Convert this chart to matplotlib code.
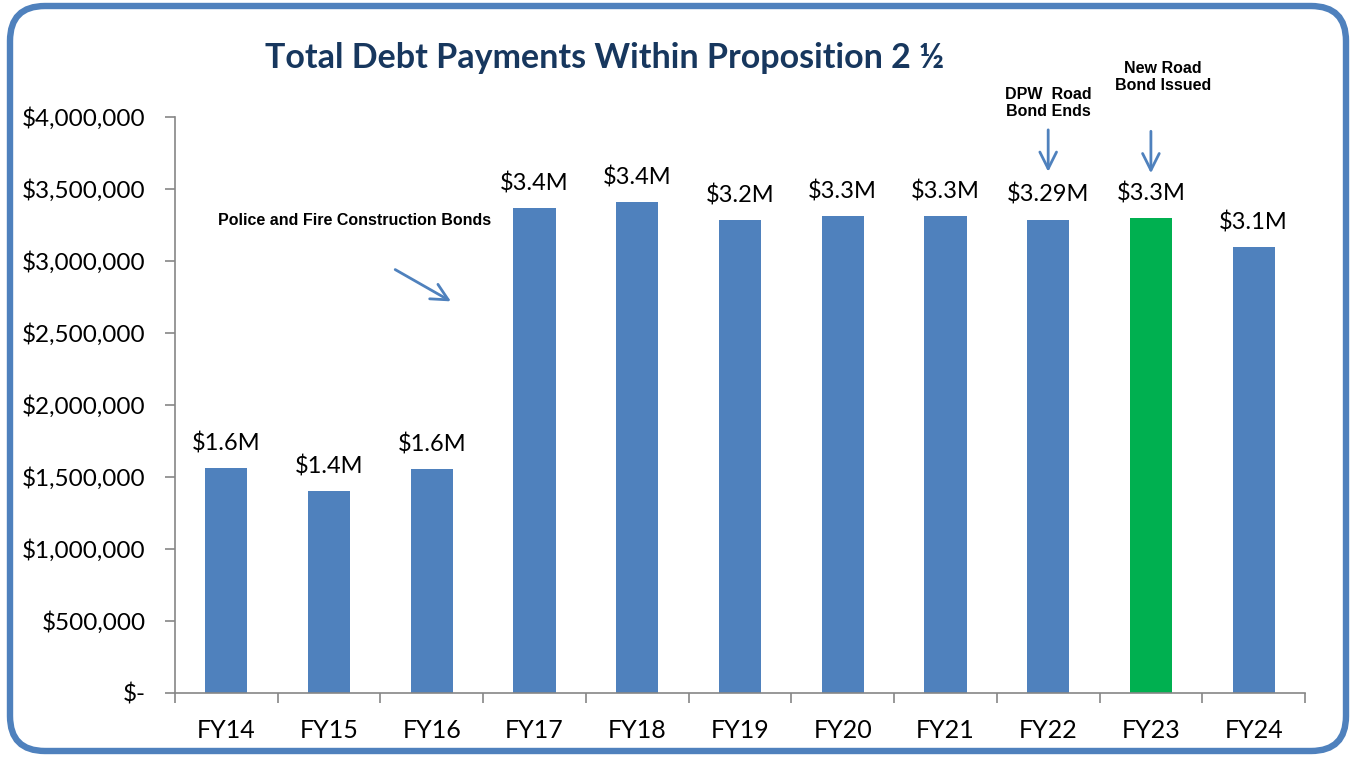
import matplotlib
matplotlib.use("Agg")
import matplotlib.pyplot as plt
from matplotlib.patches import FancyBboxPatch
from matplotlib.ticker import FuncFormatter, MultipleLocator, FixedLocator

years = ['FY14', 'FY15', 'FY16', 'FY17', 'FY18', 'FY19', 'FY20', 'FY21', 'FY22', 'FY23', 'FY24']
payments = [1562000, 1403000, 1556000, 3368000, 3410000, 3283000, 3312000, 3310000, 3286000, 3299000, 3097000]
labels = ['$1.6M', '$1.4M', '$1.6M', '$3.4M', '$3.4M', '$3.2M', '$3.3M', '$3.3M', '$3.29M', '$3.3M', '$3.1M']
highlight = 'FY23'

BLUE = '#4F81BD'
GREEN = '#00B050'
NAVY = '#17375E'
BODY_FONT = ['Lato', 'DejaVu Sans']
NOTE_FONT = ['Liberation Sans', 'DejaVu Sans']

W, H = 1356, 757
fig = plt.figure(figsize=(W / 100, H / 100), dpi=100)

# rounded frame around the whole slide, drawn in pixel units
bg = fig.add_axes([0, 0, 1, 1])
bg.set_xlim(0, W)
bg.set_ylim(H, 0)
bg.axis('off')
frame = FancyBboxPatch((10 + 35, 6 + 35), W - 20 - 70, H - 12 - 70,
                       boxstyle='round,pad=35', fc='none', ec=BLUE, lw=4.6)
bg.add_patch(frame)

ax = fig.add_axes([175 / W, 1 - 693 / H, (1305 - 175) / W, (693 - 117) / H])
ax.patch.set_alpha(0)
x = list(range(len(years)))
colors = [GREEN if y == highlight else BLUE for y in years]
bars = ax.bar(x, payments, width=0.41, color=colors, zorder=2)

for xi, val, lab in zip(x, payments, labels):
    ax.annotate(lab, (xi, val), xytext=(0, 10), textcoords='offset points',
                ha='center', va='bottom', fontsize=17, family=BODY_FONT)

ax.set_xlim(-0.5, len(years) - 0.5)
ax.set_ylim(0, 4000000)
ax.yaxis.set_major_locator(MultipleLocator(500000))
ax.yaxis.set_major_formatter(FuncFormatter(lambda v, p: '$-' if v == 0 else f'${v:,.0f}'))
ax.set_xticks(x)
ax.set_xticklabels(years)
ax.xaxis.set_minor_locator(FixedLocator([i - 0.5 for i in range(len(years) + 1)]))
ax.tick_params(axis='x', which='major', length=0, pad=19)
ax.tick_params(axis='x', which='minor', length=7, color='#868686', width=1.2)
ax.tick_params(axis='y', length=7, color='#868686', width=1.2, pad=14)
for t in ax.get_yticklabels():
    t.set_fontsize(17.5)
    t.set_family(BODY_FONT)
for t in ax.get_xticklabels():
    t.set_fontsize(18)
    t.set_family(BODY_FONT)
for side in ['top', 'right']:
    ax.spines[side].set_visible(False)
for side in ['left', 'bottom']:
    ax.spines[side].set_color('#868686')
    ax.spines[side].set_linewidth(1.2)

fig.text(605 / W, 1 - 58 / H, 'Total Debt Payments Within Proposition 2 \u00bd',
         ha='center', va='center', fontsize=24.5, fontweight='bold', color=NAVY,
         family=BODY_FONT)

# notes and arrows for the bond events
ax.text(1.25, 3280000, 'Police and Fire Construction Bonds', ha='center', va='center',
        fontsize=11.5, fontweight='bold', family=NOTE_FONT)
ax.annotate('', xy=(2.21, 2710000), xytext=(1.62, 2950000),
            arrowprops=dict(arrowstyle='->', color=BLUE, lw=2, mutation_scale=30))

ax.text(8.0, 4095000, 'DPW  Road\nBond Ends', ha='center', va='center',
        fontsize=11.5, fontweight='bold', family=NOTE_FONT, clip_on=False,
        linespacing=1.15)
ax.annotate('', xy=(8.0, 3600000), xytext=(8.0, 3930000),
            arrowprops=dict(arrowstyle='->', color=BLUE, lw=2, mutation_scale=30),
            annotation_clip=False)

ax.text(9.12, 4280000, 'New Road\nBond Issued', ha='center', va='center',
        fontsize=11.5, fontweight='bold', family=NOTE_FONT, clip_on=False,
        linespacing=1.15)
ax.annotate('', xy=(9.0, 3590000), xytext=(9.0, 3920000),
            arrowprops=dict(arrowstyle='->', color=BLUE, lw=2, mutation_scale=30),
            annotation_clip=False)

fig.savefig('out.png', dpi=100)
